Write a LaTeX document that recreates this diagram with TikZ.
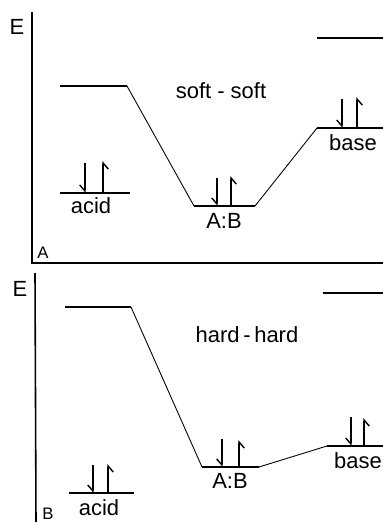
\documentclass[tikz,border=0pt]{standalone}
\usepackage{fontspec}
\setmainfont{Liberation Sans}
\usetikzlibrary{arrows.meta}
\tikzset{
  axis/.style={line width=0.9pt, draw=black, line join=miter},
  level/.style={line width=1.2pt, draw=black, line cap=butt},
  slope/.style={line width=0.5pt, draw=black},
  spin/.style={line width=0.8pt, draw=black, -{Straight Barb[right, length=3.5pt, width=6pt]}},
  levellabel/.style={font=\fontsize{12.5}{14}\selectfont, inner sep=0pt},
  panellabel/.style={font=\fontsize{9.5}{11}\selectfont, inner sep=0pt},
}

\begin{document}
\begin{tikzpicture}[x=0.02cm, y=-0.02cm]
\useasboundingbox (0,0) rectangle (383,522);
% panel A, soft - soft
\draw[axis] (32,12) -- (32,263) -- (383,263);
\node[levellabel] (EA) at (17,27) {E};
\node[panellabel] (panA) at (43,253) {A};
\node[levellabel] (titleA) at (221,91) {soft - soft};
\coordinate (aHiL) at (60,86);   \coordinate (aHiR) at (127,86);
\coordinate (aLoL) at (60,193);  \coordinate (aLoR) at (130,193);
\coordinate (abL) at (194,206);  \coordinate (abR) at (255,206);
\coordinate (bLoL) at (317,128); \coordinate (bLoR) at (383,128);
\coordinate (bHiL) at (317,38);  \coordinate (bHiR) at (383,38);
\draw[level] (aHiL) -- (aHiR);
\draw[level] (aLoL) -- (aLoR);
\draw[level] (abL) -- (abR);
\draw[level] (bLoL) -- (bLoR);
\draw[level] (bHiL) -- (bHiR);
\draw[slope] (aHiR) -- (abL);
\draw[slope] (abR) -- (bLoL);
\draw[spin] (85,163) -- (85,193);
\draw[spin] (103,193) -- (103,161);
\draw[spin] (217,178) -- (217,206);
\draw[spin] (231,206) -- (231,176);
\draw[spin] (342,99) -- (342,128);
\draw[spin] (357,128) -- (357,97);
\node[levellabel] (acidA) at (91,206) {acid};
\node[levellabel] (adductA) at (224,221) {A:B};
\node[levellabel] (baseA) at (353,143) {base};
% panel B, hard - hard
\draw[axis] (35,273) -- (36,522);
\node[levellabel] (EB) at (20,289) {E};
\node[panellabel] (panB) at (48,514) {B};
\node[levellabel] (titleB) at (247,335) {hard\,-\,hard};
\coordinate (cHiL) at (65,307);  \coordinate (cHiR) at (131,307);
\coordinate (cLoL) at (69,493);  \coordinate (cLoR) at (134,493);
\coordinate (cdL) at (202,467);  \coordinate (cdR) at (259,467);
\coordinate (dLoL) at (327,446); \coordinate (dLoR) at (383,446);
\coordinate (dHiL) at (323,293); \coordinate (dHiR) at (383,293);
\draw[level] (cHiL) -- (cHiR);
\draw[level] (cLoL) -- (cLoR);
\draw[level] (cdL) -- (cdR);
\draw[level] (dLoL) -- (dLoR);
\draw[level] (dHiL) -- (dHiR);
\draw[slope] (cHiR) -- (cdL);
\draw[slope] (cdR) -- (dLoL);
\draw[spin] (93,465) -- (93,493);
\draw[spin] (108,493) -- (108,464);
\draw[spin] (222,439) -- (222,467);
\draw[spin] (239,467) -- (239,440);
\draw[spin] (351,417) -- (351,446);
\draw[spin] (364,446) -- (364,418);
\node[levellabel] (acidB) at (99,508) {acid};
\node[levellabel] (adductB) at (230,481) {A:B};
\node[levellabel] (baseB) at (358,461) {base};
\end{tikzpicture}
\end{document}
